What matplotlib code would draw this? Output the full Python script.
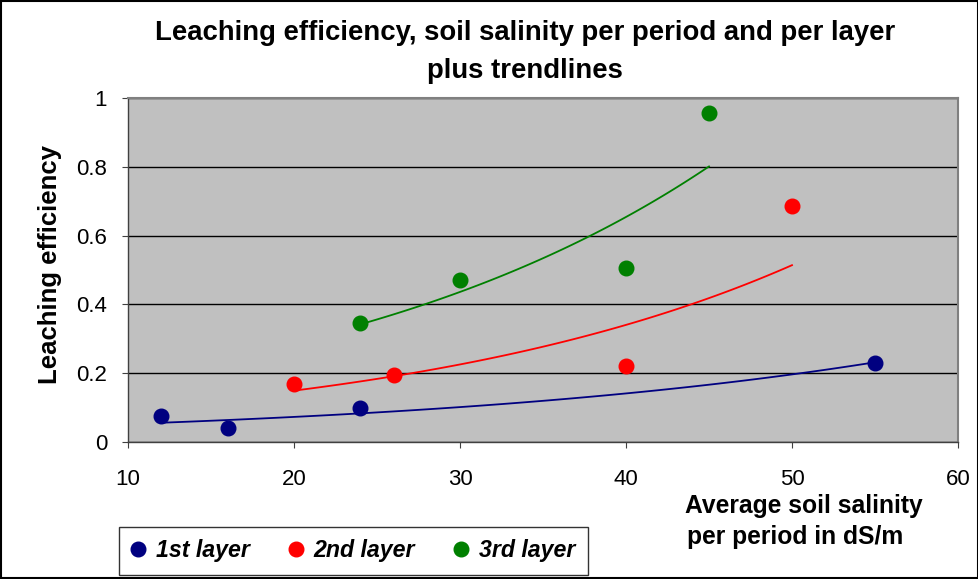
import numpy as np
import matplotlib.pyplot as plt

plt.rcParams['font.family'] = ['Liberation Sans', 'DejaVu Sans']

# data
x1 = [12, 16, 24, 55]
y1 = [0.075, 0.04, 0.10, 0.23]
x2 = [20, 26, 40, 50]
y2 = [0.17, 0.195, 0.22, 0.685]
x3 = [24, 30, 40, 45]
y3 = [0.345, 0.47, 0.505, 0.955]

series = [
    (x1, y1, '#000080', '1st layer'),
    (x2, y2, '#FF0000', '2nd layer'),
    (x3, y3, '#008000', '3rd layer'),
]

fig = plt.figure(figsize=(9.79, 5.79), dpi=100)
ax = fig.add_axes([128 / 979, 1 - 442 / 579, 830 / 979, 344 / 579])
ax.set_facecolor('#C0C0C0')

handles = []
for xs, ys, col, lab in series:
    # exponential trendline (like Excel)
    b, a = np.polyfit(xs, np.log(ys), 1)
    xt = np.linspace(min(xs), max(xs), 100)
    ax.plot(xt, np.exp(a + b * xt), color=col, lw=1.3, zorder=3)
    h, = ax.plot(xs, ys, 'o', color=col, markersize=10.5, zorder=4, label=lab)
    handles.append(h)

ax.set_xlim(10, 60)
ax.set_ylim(0, 1)
ax.set_xticks(range(10, 61, 10))
ax.set_yticks([0, 0.2, 0.4, 0.6, 0.8, 1])
ax.set_yticklabels(['0', '0.2', '0.4', '0.6', '0.8', '1'])
ax.yaxis.grid(True, color='black', lw=1)
ax.set_axisbelow(True)
for s in ax.spines.values():
    s.set_color('#808080')
    s.set_linewidth(1.5)
ax.spines['bottom'].set_color('#404040')
ax.spines['left'].set_color('#404040')
ax.spines['bottom'].set_linewidth(1)
ax.spines['left'].set_linewidth(1)
ax.tick_params(direction='out', length=4.5, labelsize=16, color='#404040')
ax.tick_params(axis='x', pad=15)
ax.tick_params(axis='y', pad=10.5)

fig.text(0.536, 1 - 33 / 579, 'Leaching efficiency, soil salinity per period and per layer',
         ha='center', va='center', fontsize=19.8, fontweight='bold')
fig.text(0.536, 1 - 71 / 579, 'plus trendlines',
         ha='center', va='center', fontsize=19.8, fontweight='bold')
fig.text(50 / 979, 1 - 265 / 579, 'Leaching efficiency', rotation=90, ha='center', va='center',
         fontsize=18.5, fontweight='bold')
fig.text(685 / 979, 1 - 506 / 579, 'Average soil salinity', ha='left', va='center',
         fontsize=17.7, fontweight='bold')
fig.text(687 / 979, 1 - 537 / 579, 'per period in dS/m', ha='left', va='center',
         fontsize=17.7, fontweight='bold')

leg = fig.legend(handles=handles, loc='center left', bbox_to_anchor=(107 / 979, 1 - 551 / 579),
                 ncol=3, frameon=True, fancybox=False, edgecolor='black', handlelength=0.6,
                 handletextpad=0.45, columnspacing=1.7, markerscale=1.0, borderpad=0.55,
                 prop={'style': 'italic', 'weight': 'bold', 'size': 16.7})
leg.get_frame().set_linewidth(1)

fig.patches.append(plt.Rectangle((0.001, 0.001), 0.998, 0.998, transform=fig.transFigure,
                                 fill=False, edgecolor='black', lw=1.5))

fig.savefig('out.png', dpi=100)
